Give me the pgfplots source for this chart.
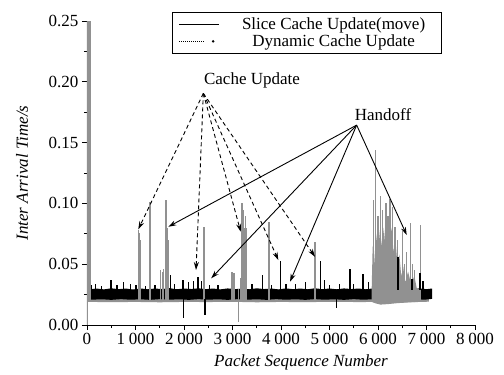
\documentclass[border=0pt]{standalone}
\usepackage{pgfplots}
\pgfplotsset{compat=1.18}
\usepackage{fontspec}
\setmainfont{Liberation Serif}
\usetikzlibrary{arrows.meta}
\definecolor{grayser}{RGB}{145,145,145}
\begin{document}
\begin{tikzpicture}
\begin{axis}[
  scale only axis, width=388pt, height=304pt,
  font=\fontsize{17}{20}\selectfont,
  xmin=0, xmax=8000, ymin=0, ymax=0.25,
  axis lines=left, axis line style={-, line width=0.8pt},
  tick align=outside, major tick length=5pt, minor tick length=3pt,
  every tick/.style={black, line width=0.8pt},
  xtick={0,1000,...,8000}, ytick={0,0.05,...,0.25},
  minor x tick num=1, minor y tick num=1,
  /pgf/number format/assume math mode=true,
  xticklabel style={/pgf/number format/1000 sep={\hspace{0.22em}}},
  yticklabel style={/pgf/number format/.cd, fixed, fixed zerofill, precision=2},
  scaled y ticks=false,
  xlabel={\itshape Packet Sequence Number},
  ylabel={\itshape Inter Arrival Time/s},
  every axis x label/.style={at={(rel axis cs:0.5515,-0.1217)}, anchor=center},
  every axis y label/.style={at={(rel axis cs:-0.1675,0.5)}, rotate=90, anchor=center},
  legend style={at={(rel axis cs:0.915,1.0296)}, anchor=north east, draw=black, line width=0.8pt, font=\fontsize{17}{20}\selectfont, inner xsep=6pt, inner ysep=3pt},
  legend cell align=center,
  unbounded coords=jump,
  clip=true,
  after end axis/.code={\path (rel axis cs:-0.2242,-0.1612) rectangle (rel axis cs:1.0747,1.0691);},
]
\addlegendimage{legend image code/.code={\draw[black, line width=1pt] (0pt,0pt) -- (40pt,0pt); \path (52pt,0pt);}}
\addlegendimage{legend image code/.code={\draw[black, line width=1pt, densely dotted] (0pt,0pt) -- (26pt,0pt); \fill[black] (34pt,0pt) circle (0.8pt); \path (52pt,0pt);}}
\legend{\makebox[200pt]{Slice Cache Update(move)}, \makebox[200pt]{Dynamic Cache Update}}

% gray band
\addplot[fill=grayser, draw=none] coordinates {
(80,0.029)(7050,0.029)(7050,0.0192)(6700,0.0188)(6300,0.0186)(6000,0.0190)(5600,0.0189)(5000,0.0191)(4500,0.0188)(4000,0.0190)(3500,0.0187)(3000,0.0191)(2500,0.0189)(2000,0.0190)(1500,0.0187)(1000,0.0190)(500,0.0188)(80,0.0190)};
% black band
\addplot[fill=black, draw=none] coordinates {
(80,0.0295)(200,0.0300)(350,0.0293)(500,0.0302)(650,0.0295)(800,0.0300)(950,0.0292)(1100,0.0301)(1250,0.0294)(1400,0.0300)(1550,0.0296)(1700,0.0303)(1850,0.0294)(2000,0.0300)(2150,0.0296)(2300,0.0302)(2450,0.0295)(2600,0.0300)(2750,0.0293)(2900,0.0301)(3050,0.0295)(3200,0.0300)(3350,0.0294)(3500,0.0302)(3650,0.0296)(3800,0.0300)(3950,0.0293)(4100,0.0301)(4250,0.0295)(4400,0.0300)(4550,0.0294)(4700,0.0302)(4850,0.0295)(5000,0.0300)(5150,0.0294)(5300,0.0301)(5450,0.0296)(5600,0.0300)(5750,0.0294)(5880,0.0300)
(5880,0.0212)(5700,0.0208)(5500,0.0213)(5300,0.0207)(5100,0.0212)(4900,0.0208)(4700,0.0213)(4500,0.0207)(4300,0.0212)(4100,0.0208)(3900,0.0213)(3700,0.0207)(3500,0.0212)(3300,0.0208)(3100,0.0213)(2900,0.0207)(2700,0.0212)(2500,0.0208)(2300,0.0213)(2100,0.0207)(1900,0.0212)(1700,0.0208)(1500,0.0213)(1300,0.0207)(1100,0.0212)(900,0.0208)(700,0.0213)(500,0.0207)(300,0.0212)(80,0.0208)};
\addplot[fill=black, draw=none] coordinates {
(6390,0.0295)(6550,0.0302)(6700,0.0296)(6850,0.0301)(7000,0.0295)(7114,0.0300)(7114,0.0215)(6950,0.0208)(6800,0.0213)(6600,0.0207)(6390,0.0212)};
% gray cluster mass
\addplot[fill=grayser, draw=none] coordinates {
(5870,0.030)(5890,0.065)(5920,0.050)(5960,0.075)(6000,0.060)(6040,0.078)(6080,0.065)(6120,0.080)(6160,0.060)(6200,0.075)(6240,0.065)(6280,0.080)(6320,0.060)(6360,0.070)(6400,0.050)(6440,0.058)(6480,0.040)(6520,0.048)(6560,0.035)(6620,0.044)(6680,0.034)(6750,0.040)(6800,0.030)(6870,0.030)
(6870,0.0192)(6600,0.0185)(6400,0.0180)(6200,0.0172)(6050,0.0168)(5950,0.0178)(5870,0.0190)};
% gray spikes
\addplot[grayser, line width=1.1pt] table {
x y
0 0.0
0 0.25
nan nan
20 0.019
20 0.25
nan nan
45 0.019
45 0.25
nan nan
70 0.019
70 0.25
nan nan
1058 0.02
1058 0.078
nan nan
1080 0.02
1080 0.076
nan nan
1105 0.02
1105 0.070
nan nan
1299 0.02
1299 0.101
nan nan
1520 0.02
1520 0.045
nan nan
1550 0.02
1550 0.044
nan nan
1580 0.02
1580 0.046
nan nan
1610 0.02
1610 0.050
nan nan
1629 0.02
1629 0.103
nan nan
1650 0.02
1650 0.080
nan nan
1672 0.02
1672 0.070
nan nan
2413 0.02
2413 0.081
nan nan
2990 0.02
2990 0.044
nan nan
3030 0.02
3030 0.043
nan nan
3120 0.0027
3120 0.030
nan nan
3165 0.02
3165 0.039
nan nan
3195 0.02
3195 0.100
nan nan
3220 0.02
3220 0.095
nan nan
3245 0.02
3245 0.080
nan nan
3268 0.02
3268 0.090
nan nan
3293 0.02
3293 0.080
nan nan
3753 0.02
3753 0.085
nan nan
4701 0.02
4701 0.068
nan nan
5898 0.02
5898 0.103
nan nan
5952 0.02
5952 0.144
nan nan
6000 0.02
6000 0.090
nan nan
6055 0.02
6055 0.106
nan nan
6100 0.02
6100 0.095
nan nan
6165 0.02
6165 0.100
nan nan
6205 0.02
6205 0.090
nan nan
6248 0.02
6248 0.104
nan nan
6303 0.02
6303 0.097
nan nan
6351 0.02
6351 0.081
nan nan
6400 0.02
6400 0.070
nan nan
6510 0.02
6510 0.077
nan nan
6550 0.02
6550 0.050
nan nan
6592 0.02
6592 0.060
nan nan
6675 0.02
6675 0.084
nan nan
6720 0.02
6720 0.050
nan nan
6760 0.02
6760 0.045
nan nan
6881 0.02
6881 0.082
};
% black spikes
\addplot[black, line width=1.3pt] table {
x y
100 0.029
100 0.033
nan nan
180 0.029
180 0.034
nan nan
300 0.029
300 0.032
nan nan
495 0.029
495 0.037
nan nan
620 0.029
620 0.033
nan nan
750 0.029
750 0.0356
nan nan
900 0.029
900 0.034
nan nan
1010 0.029
1010 0.033
nan nan
1200 0.029
1200 0.032
nan nan
1400 0.029
1400 0.033
nan nan
1720 0.029
1720 0.041
nan nan
1800 0.029
1800 0.034
nan nan
1980 0.029
1980 0.037
nan nan
2100 0.029
2100 0.035
nan nan
2200 0.029
2200 0.036
nan nan
2289 0.029
2289 0.0397
nan nan
2360 0.029
2360 0.036
nan nan
2520 0.029
2520 0.033
nan nan
2700 0.029
2700 0.033
nan nan
3400 0.029
3400 0.034
nan nan
3622 0.029
3622 0.041
nan nan
3800 0.029
3800 0.033
nan nan
3993 0.029
3993 0.0526
nan nan
4100 0.029
4100 0.034
nan nan
4300 0.029
4300 0.034
nan nan
4500 0.029
4500 0.035
nan nan
4818 0.029
4818 0.0526
nan nan
4900 0.029
4900 0.037
nan nan
5000 0.029
5000 0.033
nan nan
5200 0.029
5200 0.034
nan nan
5423 0.029
5423 0.046
nan nan
5500 0.029
5500 0.034
nan nan
5691 0.029
5691 0.042
nan nan
5800 0.029
5800 0.035
nan nan
6413 0.029
6413 0.056
nan nan
6700 0.029
6700 0.038
nan nan
6866 0.029
6866 0.043
nan nan
6928 0.029
6928 0.036
nan nan
1987 0.021
1987 0.0058
nan nan
2433 0.021
2433 0.008
nan nan
5148 0.021
5148 0.014
};
% annotations
\addplot[black, line width=0.9pt, dash pattern=on 4pt off 3pt, -{Stealth[length=8pt,width=5pt]}] coordinates {(2399,0.1905)(1058,0.0787)};
\addplot[black, line width=0.9pt, dash pattern=on 4pt off 3pt, -{Stealth[length=8pt,width=5pt]}] coordinates {(2399,0.1905)(2248,0.0452)};
\addplot[black, line width=0.9pt, dash pattern=on 4pt off 3pt, -{Stealth[length=8pt,width=5pt]}] coordinates {(2399,0.1905)(3169,0.0767)};
\addplot[black, line width=0.9pt, dash pattern=on 4pt off 3pt, -{Stealth[length=8pt,width=5pt]}] coordinates {(2399,0.1905)(3945,0.0534)};
\addplot[black, line width=0.9pt, dash pattern=on 4pt off 3pt, -{Stealth[length=8pt,width=5pt]}] coordinates {(2399,0.1905)(4701,0.0561)};
\addplot[black, line width=0.9pt, -{Stealth[length=8pt,width=5pt]}] coordinates {(5560,0.1644)(1677,0.0808)};
\addplot[black, line width=0.9pt, -{Stealth[length=8pt,width=5pt]}] coordinates {(5560,0.1644)(2560,0.0384)};
\addplot[black, line width=0.9pt, -{Stealth[length=8pt,width=5pt]}] coordinates {(5560,0.1644)(4186,0.0356)};
\addplot[black, line width=0.9pt, -{Stealth[length=8pt,width=5pt]}] coordinates {(5560,0.1644)(6592,0.0740)};
\node[font=\fontsize{17}{20}\selectfont] at (axis cs:3402,0.2010) {Cache Update};
\node[font=\fontsize{17}{20}\selectfont] at (axis cs:6104,0.1727) {Handoff};
\end{axis}
\end{tikzpicture}
\end{document}
